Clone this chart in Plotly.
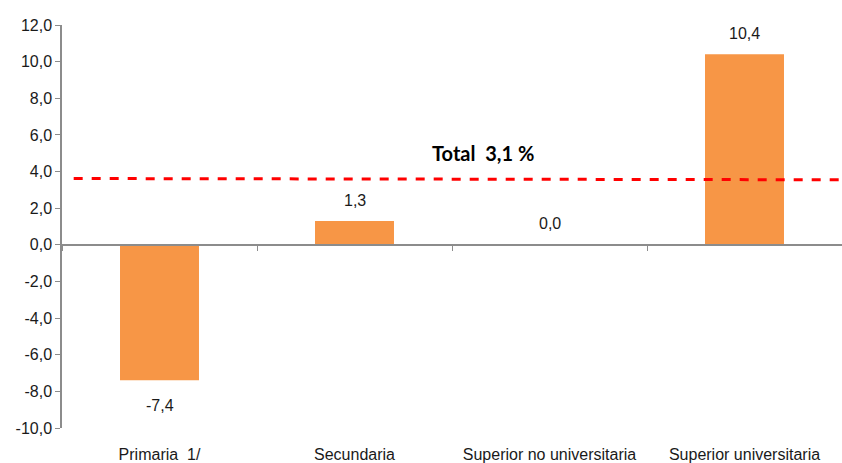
import plotly.graph_objects as go

categories = ["Primaria  1/", "Secundaria", "Superior no universitaria", "Superior universitaria"]
values = [-7.4, 1.3, 0.0, 10.4]
total_label = "Total  3,1 %"
total_line_x = [-0.44, 3.5]
total_line_y = [3.62, 3.55]
y_ticks = [-10, -8, -6, -4, -2, 0, 2, 4, 6, 8, 10, 12]


def fmt(v):
    return f"{v:.1f}".replace(".", ",")


FONT = "Liberation Sans Narrow, Arial Narrow, Liberation Sans, sans-serif"

fig = go.Figure()
fig.add_trace(go.Bar(
    x=list(range(len(categories))), y=values,
    marker=dict(color="#F79646", line=dict(width=0)),
    width=0.405,
    showlegend=False, hoverinfo="skip",
))
fig.add_trace(go.Scatter(
    x=total_line_x, y=total_line_y, mode="lines",
    line=dict(color="#FF0000", width=3, dash="dash"),
    showlegend=False, hoverinfo="skip",
))
# invisible trace to render the zero-line axis with boundary ticks
fig.add_trace(go.Scatter(
    x=categories, y=[0] * 4, xaxis="x2", mode="markers",
    marker=dict(opacity=0), showlegend=False, hoverinfo="skip",
))

for i, v in enumerate(values):
    fig.add_annotation(
        x=i, y=v, text=fmt(v), showarrow=False,
        yshift=21 if v >= 0 else -25,
        font=dict(family=FONT, size=16, color="#1a1a1a"),
    )

fig.add_annotation(
    x=1.66, y=5.0, text="<b>" + total_label + "</b>", showarrow=False,
    font=dict(family="Lato, Open Sans, sans-serif", size=20, color="#000000"),
)

fig.update_layout(
    width=842, height=463,
    margin=dict(l=62, r=0, t=25, b=35),
    paper_bgcolor="white", plot_bgcolor="white",
    bargap=0.6,
    xaxis=dict(
        range=[-0.5, 3.5], tickmode="array",
        tickvals=list(range(len(categories))), ticktext=categories,
        showline=False, showgrid=False, zeroline=False,
        ticks="outside", ticklen=12, tickcolor="rgba(0,0,0,0)",
        tickfont=dict(family=FONT, size=16, color="#1a1a1a"),
    ),
    xaxis2=dict(
        type="category", overlaying="x", anchor="free",
        position=10 / 22, range=[-0.5, 3.5],
        showline=True, linecolor="#8c8c8c", linewidth=1.5,
        ticks="outside", tickson="boundaries", ticklen=5,
        tickcolor="#8c8c8c", showticklabels=False, showgrid=False,
    ),
    yaxis=dict(
        range=[-10, 12], tickmode="array", tickvals=y_ticks,
        ticktext=[fmt(t) for t in y_ticks],
        showline=True, linecolor="#8c8c8c", linewidth=1.5,
        ticks="outside", ticklen=5, tickcolor="#8c8c8c",
        showgrid=False, zeroline=False,
        tickfont=dict(family=FONT, size=16, color="#1a1a1a"),
    ),
)

fig.write_html("out.html", config={"displayModeBar": False},
               post_script="document.body.style.margin='0';")
